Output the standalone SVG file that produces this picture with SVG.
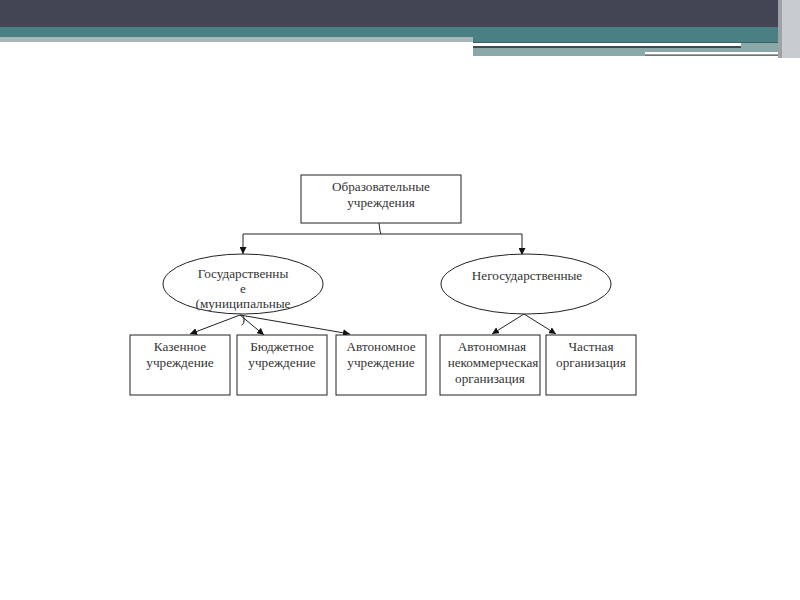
<svg xmlns="http://www.w3.org/2000/svg" width="800" height="600" viewBox="0 0 800 600">
<defs>
<marker id="ah" viewBox="0 0 10 10" refX="10" refY="5" markerWidth="7" markerHeight="7" orient="auto" markerUnits="userSpaceOnUse">
<path d="M0,0 L10,5 L0,10 z" fill="#111"/>
</marker>
</defs>
<style>
.t{font-family:"Liberation Serif","Times New Roman",serif;font-size:13.2px;fill:#333;text-anchor:middle}
.b{fill:#fff;stroke:#222;stroke-width:1}
.c{fill:none;stroke:#222;stroke-width:1}
</style>
<rect width="800" height="600" fill="#fff"/>
<g id="header">
<rect x="0" y="0" width="800" height="27" fill="#434554"/>
<rect x="0" y="27" width="475" height="10" fill="#4a8083"/>
<rect x="0" y="37" width="475" height="5" fill="#a9b6b6"/>
<rect x="473" y="27" width="312" height="16" fill="#4a8083"/>
<rect x="473" y="42" width="312" height="1" fill="#3d5f62"/>
<rect x="473" y="43" width="268" height="3" fill="#fff"/>
<rect x="473" y="46" width="268" height="2" fill="#3f4b52"/>
<rect x="741" y="43" width="44" height="5" fill="#8aa8a8"/>
<rect x="473" y="48" width="312" height="8" fill="#8aa8a8"/>
<rect x="645" y="52" width="137" height="2.5" fill="#fff"/>
<rect x="645" y="54.5" width="137" height="1.5" fill="#6e7470"/>
<rect x="778" y="0" width="22" height="58" fill="#c9ccce"/>
<rect x="778" y="0" width="4" height="58" fill="#9ea2a6"/>
</g>
<g id="connectors">
<path class="c" d="M379,223 L380,231 L381,234"/>
<path class="c" d="M243,234 L522,234"/>
<path class="c" d="M243,234 L243,254" marker-end="url(#ah)"/>
<path class="c" d="M522,234 L522,255" marker-end="url(#ah)"/>
<path class="c" d="M240,315 L190,334" marker-end="url(#ah)"/>
<path class="c" d="M240,315 L264,335" marker-end="url(#ah)"/>
<path class="c" d="M240,315 L350,334" marker-end="url(#ah)"/>
<path class="c" d="M524,314 L492,334" marker-end="url(#ah)"/>
<path class="c" d="M524,314 L556,334" marker-end="url(#ah)"/>
</g>
<g id="n-root">
<rect class="b" x="301" y="175" width="160" height="48"/>
<text class="t" x="381" y="191">Образовательные</text>
<text class="t" x="381" y="207">учреждения</text>
</g>
<g id="n-state">
<ellipse class="b" cx="243" cy="284" rx="80" ry="30"/>
<text class="t" x="243" y="278">Государственны</text>
<text class="t" x="243" y="293">е</text>
<text class="t" x="243" y="308">(муниципальные</text>
<text class="t" x="243" y="323">)</text>
</g>
<g id="n-nonstate">
<ellipse class="b" cx="526" cy="284" rx="85" ry="30"/>
<text class="t" x="527" y="280">Негосударственные</text>
</g>
<g id="n-kaz">
<rect class="b" x="130" y="335" width="100" height="60"/>
<text class="t" x="180" y="351">Казенное</text>
<text class="t" x="180" y="367">учреждение</text>
</g>
<g id="n-bud">
<rect class="b" x="237" y="335" width="90" height="60"/>
<text class="t" x="282" y="351">Бюджетное</text>
<text class="t" x="282" y="367">учреждение</text>
</g>
<g id="n-avt">
<rect class="b" x="336" y="335" width="90" height="60"/>
<text class="t" x="381" y="351">Автономное</text>
<text class="t" x="381" y="367">учреждение</text>
</g>
<g id="n-ano">
<rect class="b" x="440" y="335" width="100" height="60"/>
<text class="t" x="492" y="351">Автономная</text>
<text class="t" x="493" y="367">некоммерческая</text>
<text class="t" x="490" y="383">организация</text>
</g>
<g id="n-private">
<rect class="b" x="546" y="335" width="90" height="60"/>
<text class="t" x="591" y="351">Частная</text>
<text class="t" x="591" y="367">организация</text>
</g>
</svg>
